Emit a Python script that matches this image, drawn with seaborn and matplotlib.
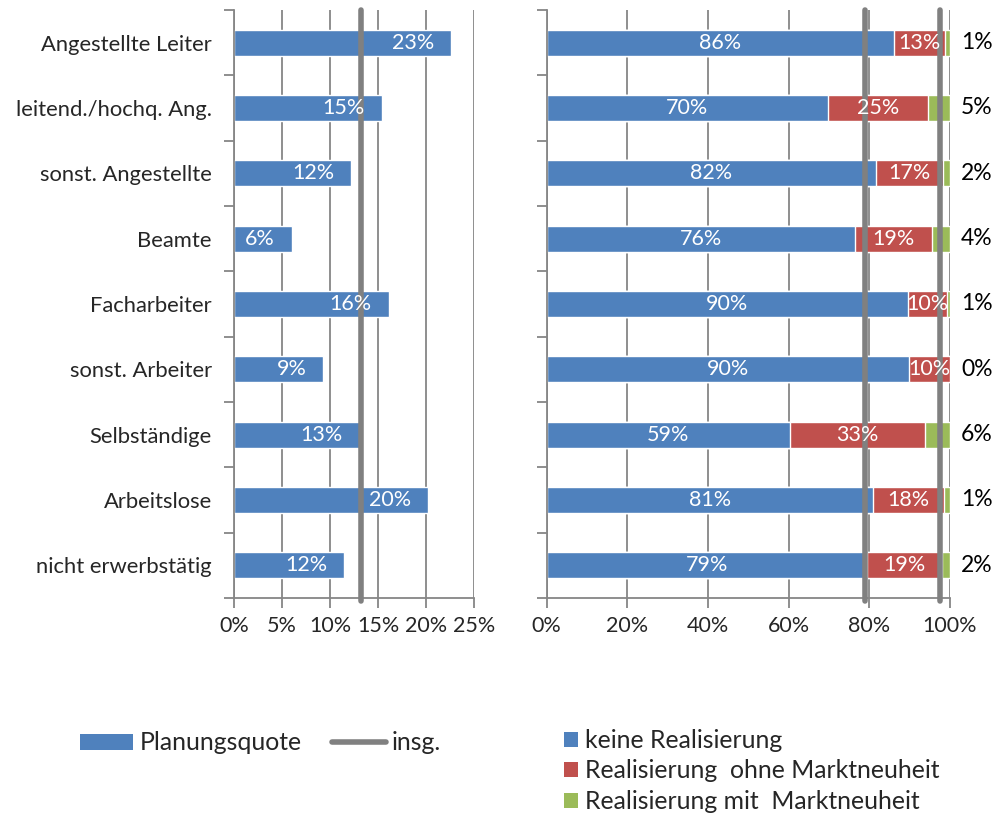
import matplotlib
matplotlib.use("Agg")
import matplotlib.pyplot as plt
import seaborn as sns
import pandas as pd
import numpy as np
from matplotlib.patches import Patch
from matplotlib.lines import Line2D

categories = ["Angestellte Leiter", "leitend./hochq. Ang.", "sonst. Angestellte", "Beamte",
              "Facharbeiter", "sonst. Arbeiter", "Selbständige", "Arbeitslose", "nicht erwerbstätig"]
planungsquote = [22.6, 15.4, 12.2, 6.0, 16.1, 9.3, 13.1, 20.2, 11.5]
insg_planung = 13.2

keine = [86.0, 69.8, 81.6, 76.4, 89.6, 89.8, 60.3, 80.8, 79.3]
ohne = [12.8, 24.8, 16.6, 19.2, 9.6, 10.2, 33.5, 17.8, 18.8]
mit = [1.2, 5.4, 1.8, 4.4, 0.8, 0.0, 6.2, 1.4, 1.9]
keine_labels = ["86%", "70%", "82%", "76%", "90%", "90%", "59%", "81%", "79%"]
ohne_labels = ["13%", "25%", "17%", "19%", "10%", "10%", "33%", "18%", "19%"]
mit_labels = ["1%", "5%", "2%", "4%", "1%", "0%", "6%", "1%", "2%"]
insg_real = [79.0, 97.4]

left_ticks = [0, 5, 10, 15, 20, 25]
right_ticks = [0, 20, 40, 60, 80, 100]

BLUE, RED, GREEN, GRAY = "#4F81BD", "#C0504D", "#9BBB59", "#808080"
GRID = "#868686"
FS_CAT = 15.8
FS_BAR = 15.5
FS_TICK = 15.5
FS_OUT = 16.5
FS_LEG = 17.8

sns.set_theme(style="white")
plt.rcParams["font.family"] = ["Lato", "DejaVu Sans"]

df = pd.DataFrame({"cat": categories, "plan": planungsquote,
                   "keine": keine, "ohne": ohne, "mit": mit})
df["k_o"] = df["keine"] + df["ohne"]
df["total"] = df["k_o"] + df["mit"]

fig = plt.figure(figsize=(10, 8.17), dpi=100)
W, H = 1000, 817
top, bottom = 10, 598
axL = fig.add_axes([234 / W, 1 - bottom / H, 240 / W, (bottom - top) / H])
axR = fig.add_axes([546.7 / W, 1 - bottom / H, 403.3 / W, (bottom - top) / H])


def style(ax, ticks):
    for s in ["top", "right"]:
        ax.spines[s].set_visible(False)
    for s in ["left", "bottom"]:
        ax.spines[s].set_color(GRID)
        ax.spines[s].set_linewidth(1.3)
    ax.set_axisbelow(True)
    ax.grid(axis="x", color=GRID, lw=1.3)
    ax.grid(axis="y", visible=False)
    ax.set_xlim(ticks[0], ticks[-1])
    ax.set_xticks(ticks)
    ax.set_xticklabels([f"{t}%" for t in ticks], fontsize=FS_TICK)
    ax.set_ylim(len(categories) - 0.5, -0.5)
    ax.set_yticks(np.arange(-0.5, len(categories), 1))
    ax.set_yticklabels([])
    ax.tick_params(axis="both", which="major", color=GRID, width=1.3, length=7,
                   direction="out", left=True, bottom=True)
    ax.tick_params(axis="x", pad=6)
    ax.set_xlabel("")
    ax.set_ylabel("")


# Left panel
sns.barplot(data=df, x="plan", y="cat", orient="h", color=BLUE, saturation=1,
            width=0.4, ax=axL)
style(axL, left_ticks)
axL.set_yticks(np.arange(len(categories)), minor=True)
axL.set_yticklabels(categories, minor=True, fontsize=FS_CAT)
axL.tick_params(axis="y", which="minor", length=0, pad=16)
axL.axvline(insg_planung, color=GRAY, lw=4, zorder=5, clip_on=False, ymin=-0.005)
for i, v in enumerate(planungsquote):
    axL.annotate(f"{v:.0f}%", xy=(v, i), xytext=(-17, 0), textcoords="offset pixels",
                 ha="right", va="center", color="white", fontsize=FS_BAR, zorder=6)

# Right panel (stacked via layered cumulative bars)
sns.barplot(data=df, x="total", y="cat", orient="h", color=GREEN, saturation=1,
            width=0.4, ax=axR)
sns.barplot(data=df, x="k_o", y="cat", orient="h", color=RED, saturation=1,
            width=0.4, ax=axR)
sns.barplot(data=df, x="keine", y="cat", orient="h", color=BLUE, saturation=1,
            width=0.4, ax=axR)
style(axR, right_ticks)
for x in insg_real:
    axR.axvline(x, color=GRAY, lw=4, zorder=5, clip_on=False, ymin=-0.005)
for i in range(len(categories)):
    axR.text(keine[i] / 2, i, keine_labels[i], ha="center", va="center",
             color="white", fontsize=FS_BAR, zorder=6)
    axR.text(keine[i] + ohne[i] / 2, i, ohne_labels[i], ha="center", va="center",
             color="white", fontsize=FS_BAR, zorder=6)
    axR.annotate(mit_labels[i], xy=(1, i), xycoords=("axes fraction", "data"),
                 xytext=(27, 0), textcoords="offset pixels", ha="center",
                 va="center", color="black", fontsize=FS_OUT, annotation_clip=False)

# Legends
h1 = [Patch(facecolor=BLUE, edgecolor="none"),
      Line2D([0], [0], color=GRAY, lw=4, solid_capstyle="round")]
fig.legend(h1, ["Planungsquote", "insg."], loc="center left",
           bbox_to_anchor=(80 / W, 1 - 743 / H), ncol=2, frameon=False,
           fontsize=FS_LEG, handlelength=2.15, handleheight=0.6, handletextpad=0.25,
           columnspacing=1.25, borderaxespad=0, borderpad=0)
h2 = [Patch(facecolor=c, edgecolor="none") for c in [BLUE, RED, GREEN]]
fig.legend(h2, ["keine Realisierung", "Realisierung  ohne Marktneuheit",
                "Realisierung mit  Marktneuheit"], loc="upper left",
           bbox_to_anchor=(564 / W, 1 - 729 / H), frameon=False, fontsize=FS_LEG,
           handlelength=0.55, handleheight=0.55, handletextpad=0.3,
           labelspacing=0.3, borderaxespad=0, borderpad=0)

fig.savefig("out.png", dpi=100)
